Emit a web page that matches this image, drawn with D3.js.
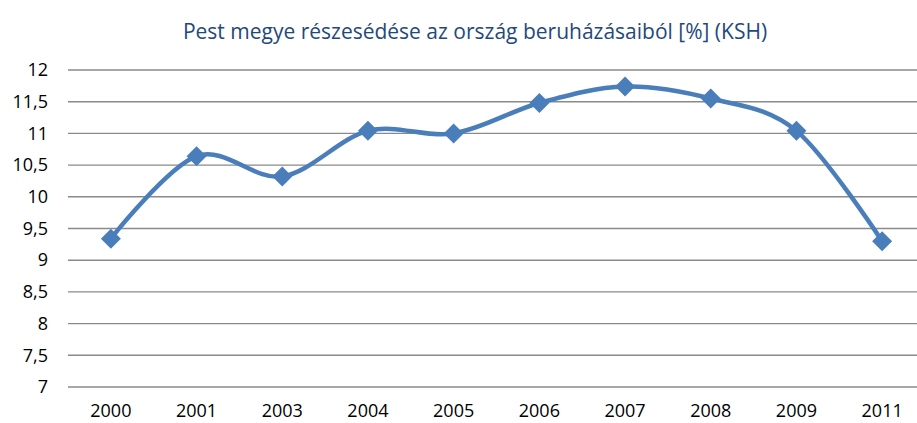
<!DOCTYPE html>
<html>
<head>
<meta charset="utf-8">
<script src="https://cdn.jsdelivr.net/npm/d3@7"></script>
<style>
  body { margin: 0; background: #fff; }
  svg text { font-family: "Open Sans", sans-serif; }
</style>
</head>
<body>
<div id="chart"></div>
<script>
// adatok (KSH)
const years = ["2000", "2001", "2003", "2004", "2005", "2006", "2007", "2008", "2009", "2011"];
const share = [9.34, 10.64, 10.32, 11.04, 11.0, 11.48, 11.74, 11.55, 11.04, 9.3];
const yTicks = [7, 7.5, 8, 8.5, 9, 9.5, 10, 10.5, 11, 11.5, 12];
const title = "Pest megye részesédése az ország beruházásaiból [%] (KSH)";

const W = 917, H = 423;
const margin = {top: 70, right: -8, bottom: 36, left: 68};
const width = W - margin.left - margin.right,
      height = H - margin.top - margin.bottom;

const svg = d3.select("#chart").append("svg")
    .attr("width", W)
    .attr("height", H);

svg.append("text")
    .attr("x", 475)
    .attr("y", 39)
    .attr("text-anchor", "middle")
    .attr("font-size", "21px")
    .attr("fill", "#1f497d")
    .text(title);

const g = svg.append("g")
    .attr("transform", "translate(" + margin.left + "," + margin.top + ")");

const x = d3.scaleBand()
    .domain(years)
    .range([0, width]);

const y = d3.scaleLinear()
    .domain([7, 12])
    .range([height, 0]);

// rács
g.selectAll(".grid").data(yTicks).enter().append("line")
    .attr("class", "grid")
    .attr("x1", 0)
    .attr("x2", width)
    .attr("y1", d => y(d))
    .attr("y2", d => y(d))
    .attr("stroke", "#8a8a8a")
    .attr("stroke-width", 1.4);

// tengelyek
const axisY = d3.axisLeft(y)
    .tickValues(yTicks)
    .tickSize(0)
    .tickPadding(20)
    .tickFormat(d => String(d).replace(".", ","));
g.append("g").call(axisY)
    .call(s => s.select(".domain").remove())
    .selectAll("text")
    .attr("font-size", "18px")
    .attr("fill", "#000");

const axisX = d3.axisBottom(x)
    .tickSize(0)
    .tickPadding(17);
g.append("g")
    .attr("transform", "translate(0," + height + ")")
    .call(axisX)
    .call(s => s.select(".domain").remove())
    .selectAll("text")
    .attr("font-size", "18px")
    .attr("fill", "#000");

// vonal
const line = d3.line()
    .x((d, i) => x(years[i]) + x.bandwidth() / 2)
    .y(d => y(d))
    .curve(d3.curveCardinal.tension(0));

g.append("path")
    .datum(share)
    .attr("d", line)
    .attr("fill", "none")
    .attr("stroke", "#4a7ebb")
    .attr("stroke-width", 4.5);

// rombusz jelölők
g.selectAll(".pt").data(share).enter().append("path")
    .attr("class", "pt")
    .attr("d", "M0,-10L10,0L0,10L-10,0Z")
    .attr("transform", (d, i) => "translate(" + (x(years[i]) + x.bandwidth() / 2) + "," + y(d) + ")")
    .attr("fill", "#4a7ebb");
</script>
</body>
</html>
